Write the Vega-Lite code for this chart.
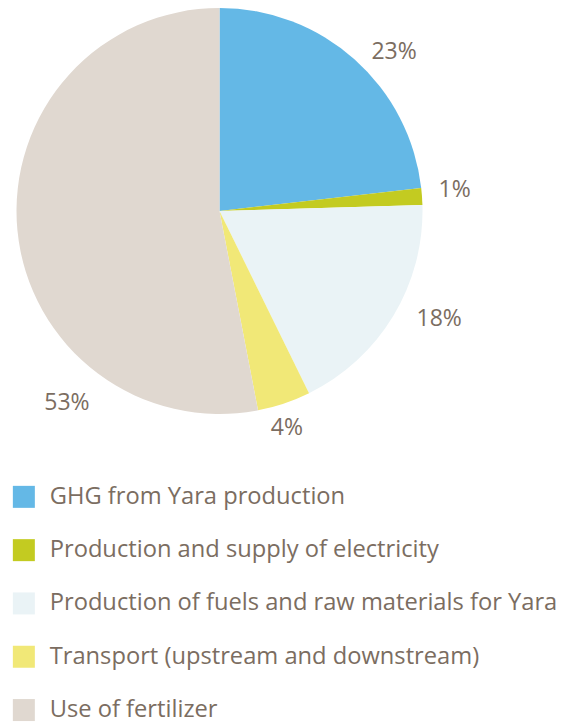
{
  "$schema": "https://vega.github.io/schema/vega-lite/v6.json",
  "width": 439,
  "height": 422,
  "padding": 0,
  "autosize": {"type": "pad"},
  "background": "white",
  "config": {"view": {"stroke": null}, "font": "Open Sans"},
  "datasets": {
    "labels": [
      {"label": "23%", "at": 13.25, "ring": "near"},
      {"label": "1%", "at": 23.6, "ring": "near"},
      {"label": "18%", "at": 32.3, "ring": "far"},
      {"label": "4%", "at": 45.2, "ring": "inner"},
      {"label": "53%", "at": 60.7, "ring": "far"}
    ]
  },
  "layer": [
    {
      "data": {"values": [
        {"category": "GHG from Yara production", "share": 23.2, "ord": 1},
        {"category": "Production and supply of electricity", "share": 1.33, "ord": 2},
        {"category": "Production of fuels and raw materials for Yara", "share": 18.2, "ord": 3},
        {"category": "Transport (upstream and downstream)", "share": 4.23, "ord": 4},
        {"category": "Use of fertilizer", "share": 53.04, "ord": 5}
      ]},
      "mark": {"type": "arc", "radius": 203},
      "encoding": {
        "theta": {"field": "share", "type": "quantitative", "scale": {"domain": [0, 100]}},
        "order": {"field": "ord", "type": "quantitative"},
        "color": {
          "field": "category", "type": "nominal",
          "scale": {
            "domain": ["GHG from Yara production", "Production and supply of electricity", "Production of fuels and raw materials for Yara", "Transport (upstream and downstream)", "Use of fertilizer"],
            "range": ["#64b8e6", "#c3cb21", "#eaf3f6", "#f1e877", "#e0d8d0"]
          },
          "legend": {
            "orient": "none", "legendX": 12, "legendY": 485, "title": null,
            "symbolType": "square", "symbolSize": 484, "symbolStrokeWidth": 0, "symbolOpacity": 1,
            "labelFontSize": 23.7, "labelColor": "#7b6d61", "labelFont": "Open Sans",
            "rowPadding": 28.3, "labelOffset": 14, "padding": 0, "labelLimit": 600
          }
        }
      }
    },
    {
      "data": {"name": "labels"},
      "transform": [{"filter": "datum.ring === 'near'"}],
      "mark": {"type": "text", "radius": 236, "fontSize": 23, "color": "#7b6d61", "font": "Open Sans"},
      "encoding": {
        "theta": {"field": "at", "type": "quantitative", "stack": null},
        "text": {"field": "label", "type": "nominal"}
      }
    },
    {
      "data": {"name": "labels"},
      "transform": [{"filter": "datum.ring === 'far'"}],
      "mark": {"type": "text", "radius": 245, "fontSize": 23, "color": "#7b6d61", "font": "Open Sans"},
      "encoding": {
        "theta": {"field": "at", "type": "quantitative", "stack": null},
        "text": {"field": "label", "type": "nominal"}
      }
    },
    {
      "data": {"name": "labels"},
      "transform": [{"filter": "datum.ring === 'inner'"}],
      "mark": {"type": "text", "radius": 227, "fontSize": 23, "color": "#7b6d61", "font": "Open Sans"},
      "encoding": {
        "theta": {"field": "at", "type": "quantitative", "stack": null},
        "text": {"field": "label", "type": "nominal"}
      }
    }
  ]
}
